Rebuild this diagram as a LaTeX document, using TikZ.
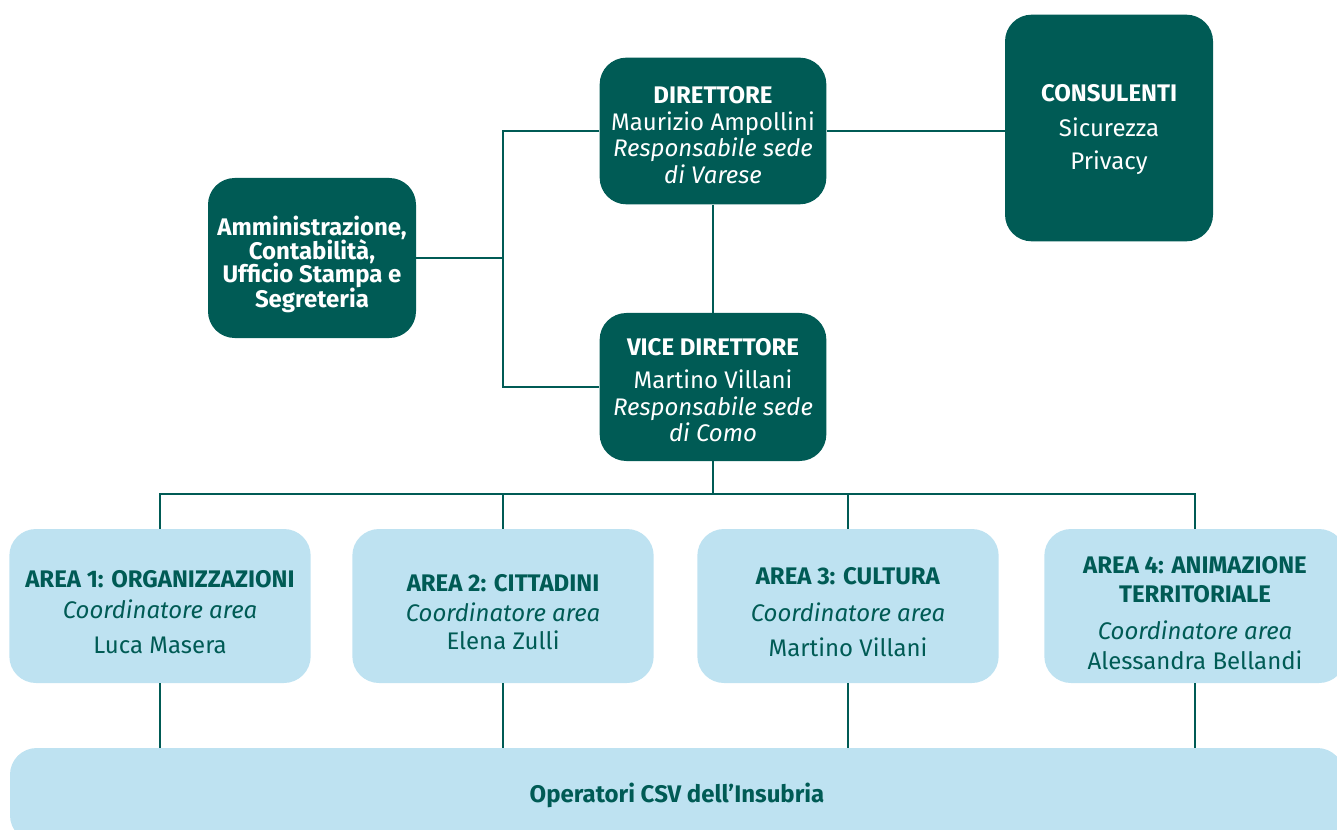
\documentclass[tikz,border=0pt]{standalone}
\usepackage{fontspec}
\setmainfont{Fira Sans}
\usetikzlibrary{positioning}
\definecolor{csvdark}{HTML}{005B55}
\definecolor{csvlight}{HTML}{BEE2F1}
\tikzset{darkbox/.style={fill=csvdark, text=white, rounded corners=20pt, align=center, inner sep=0pt,
                         font=\fontsize{18}{20}\selectfont},
         lightbox/.style={fill=csvlight, text=csvdark, rounded corners=20pt, align=center, inner sep=0pt,
                          minimum width=226pt, minimum height=115.5pt, font=\fontsize{18}{20}\selectfont},
         link/.style={draw=csvdark, line width=1.8pt}}

\begin{document}
\begin{tikzpicture}[x=0.75pt, y=-0.75pt]
	\useasboundingbox (0,0) rectangle (1337,830);

	% Upper part
	\node[darkbox, minimum width=170pt, minimum height=110pt] (dir) at (713,131) {\\[-1pt]\textbf{DIRETTORE}\\Maurizio Ampollini\\\textit{Responsabile sede}\\\textit{di Varese}};
	\node[darkbox, minimum width=156pt, minimum height=170pt] (cons) at (1109,128) {\\[-4.5pt]\textbf{CONSULENTI}\\[6pt]Sicurezza\\[5pt]Privacy};
	\node[darkbox, minimum width=156pt, minimum height=120pt, font=\fontsize{18}{18}\selectfont\bfseries] (amm) at (312,258) {\\[6pt]Amministrazione,\\[-1pt]Contabilità,\\[-1pt]Ufficio Stampa e\\[-1pt]Segreteria};
	\node[darkbox, minimum width=170pt, minimum height=111pt] (vice) at (713,387) {\\[-2.5pt]\textbf{VICE DIRETTORE}\\[5pt]Martino Villani\\\textit{Responsabile sede}\\\textit{di Como}};

	% Areas
	\node[lightbox] (area1) at (160,606) {\\[2pt]\textbf{AREA 1: ORGANIZZAZIONI}\\[3pt]\textit{Coordinatore area}\\[6pt]Luca Masera};
	\node[lightbox] (area2) at (503,606) {\\[2pt]\textbf{AREA 2: CITTADINI}\\[2pt]\textit{Coordinatore area}\\[1pt]Elena Zulli};
	\node[lightbox] (area3) at (848,606) {\\[2pt]\textbf{AREA 3: CULTURA}\\[8pt]\textit{Coordinatore area}\\[6pt]Martino Villani};
	\node[lightbox] (area4) at (1195,606) {\\[3pt]\textbf{AREA 4: ANIMAZIONE}\\[2pt]\textbf{TERRITORIALE}\\[8pt]\textit{Coordinatore area}\\[2pt]Alessandra Bellandi};

	\node[lightbox, minimum width=1000.5pt, minimum height=70.5pt] (ops) at (677,795) {\textbf{Operatori CSV dell’Insubria}};

	\coordinate (trunk) at (503,258);
	\coordinate (bus) at (713,494);

	% Connectors
	\draw[link] (dir.west) -| (trunk) |- (vice.west);
	\draw[link] (amm.east) -- (trunk);
	\draw[link] (dir.east) -- (cons.west |- dir.east);
	\draw[link] (dir.south) -- (vice.north);

	\draw[link] (vice.south) -- (bus);
	\draw[link] (area1.north) |- (bus);
	\draw[link] (area2.north) |- (bus);
	\draw[link] (area3.north) |- (bus);
	\draw[link] (area4.north) |- (bus);

	\draw[link] (area1.south) -- (area1.south |- ops.north);
	\draw[link] (area2.south) -- (area2.south |- ops.north);
	\draw[link] (area3.south) -- (area3.south |- ops.north);
	\draw[link] (area4.south) -- (area4.south |- ops.north);
\end{tikzpicture}
\end{document}
